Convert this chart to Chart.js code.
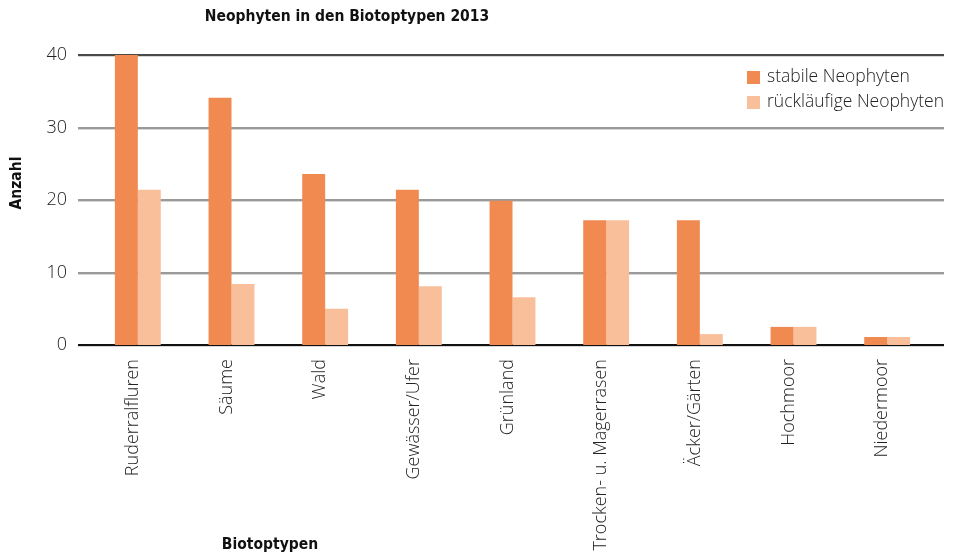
<!DOCTYPE html>
<html>
<head>
<meta charset="utf-8">
<script src="https://cdn.jsdelivr.net/npm/chart.js@4.4.1/dist/chart.umd.min.js"></script>
<style>
	html, body { margin: 0; padding: 0; background: #fff; }
	#wrap { width: 956px; height: 555px; position: relative; }
</style>
</head>
<body>
<div id="wrap"><canvas id="neoChart"></canvas></div>
<script>
const categories = ["Ruderralfluren", "Säume", "Wald", "Gewässer/Ufer", "Grünland",
	"Trocken- u. Magerrasen", "Äcker/Gärten", "Hochmoor", "Niedermoor"];
const stabile = [40, 34.1, 23.6, 21.4, 19.9, 17.2, 17.2, 2.5, 1.1];
const ruecklaeufig = [21.4, 8.4, 5.0, 8.1, 6.6, 17.2, 1.5, 2.5, 1.1];
const yTicks = [0, 10, 20, 30, 40];

const chartTitle = "Neophyten in den Biotoptypen 2013";
const yTitle = "Anzahl";
const xTitle = "Biotoptypen";

const condensed = "'Liberation Sans Narrow', 'DejaVu Sans Condensed', sans-serif";
const lightFont = "'Open Sans', sans-serif";

/* grid lines reaching past the chart area, plus free-placed titles and legend */
const decoPlugin = {
	id: "deco",
	beforeDatasetsDraw(chart) {
		const { ctx, chartArea, scales } = chart;
		const y = scales.y;
		ctx.save();
		yTicks.forEach(v => {
			const py = Math.round(y.getPixelForValue(v));
			let col = "#9a9a9a";
			if (v === 0) col = "#111";
			else if (v === 40) col = "#4a4a4a";
			ctx.strokeStyle = "#d6d6d6";
			ctx.lineWidth = 1;
			ctx.beginPath();
			ctx.moveTo(chartArea.left - 13, py + 1.5);
			ctx.lineTo(chartArea.right + 10, py + 1.5);
			ctx.stroke();
			ctx.strokeStyle = col;
			ctx.lineWidth = 2;
			ctx.beginPath();
			ctx.moveTo(chartArea.left - 13, py);
			ctx.lineTo(chartArea.right + 10, py);
			ctx.stroke();
		});
		ctx.restore();
	},
	afterDraw(chart) {
		const { ctx } = chart;
		ctx.save();
		ctx.fillStyle = "#111";
		ctx.font = "bold 15.5px " + condensed;
		ctx.textAlign = "center";
		ctx.textBaseline = "middle";
		ctx.fillText(chartTitle, 347, 17);

		ctx.fillText(xTitle, 270, 545);

		ctx.translate(17, 183);
		ctx.rotate(-Math.PI / 2);
		ctx.fillText(yTitle, 0, 0);
		ctx.restore();

		// legend
		ctx.save();
		ctx.font = "300 17.5px " + lightFont;
		ctx.textBaseline = "middle";
		ctx.textAlign = "left";
		chart.data.datasets.forEach((ds, i) => {
			const ly = 77 + i * 25;
			ctx.fillStyle = ds.backgroundColor;
			ctx.fillRect(747, ly - 6, 13, 13);
			ctx.fillStyle = "#222";
			ctx.fillText(ds.label, 767, ly);
		});
		ctx.restore();
	}
};

const ctx = document.getElementById("neoChart");

new Chart(ctx, {
	type: "bar",
	data: {
		labels: categories,
		datasets: [{
			label: "stabile Neophyten",
			data: stabile,
			backgroundColor: "#f18a51",
			categoryPercentage: 0.49,
			barPercentage: 1.0
		}, {
			label: "rückläufige Neophyten",
			data: ruecklaeufig,
			backgroundColor: "#f8bf9a",
			categoryPercentage: 0.49,
			barPercentage: 1.0
		}]
	},
	options: {
		responsive: true,
		maintainAspectRatio: false,
		animation: false,
		layout: {
			padding: { top: 55, right: 22, left: 0, bottom: 0 }
		},
		plugins: {
			legend: { display: false },
			title: { display: false },
			tooltip: { enabled: false }
		},
		scales: {
			x: {
				grid: { display: false, drawTicks: false },
				border: { display: false },
				ticks: {
					maxRotation: 90,
					minRotation: 90,
					padding: 14,
					labelOffset: -5,
					color: "#222",
					font: { family: lightFont, size: 18, weight: 300 }
				},
				afterFit(scale) { scale.height = 210; }
			},
			y: {
				min: 0,
				max: 40,
				grid: { display: false, drawTicks: false },
				border: { display: false },
				ticks: {
					stepSize: 10,
					padding: 24,
					color: "#222",
					font: { family: lightFont, size: 18, weight: 300 }
				},
				afterFit(scale) { scale.width = 91; }
			}
		}
	},
	plugins: [decoPlugin]
});
</script>
</body>
</html>
